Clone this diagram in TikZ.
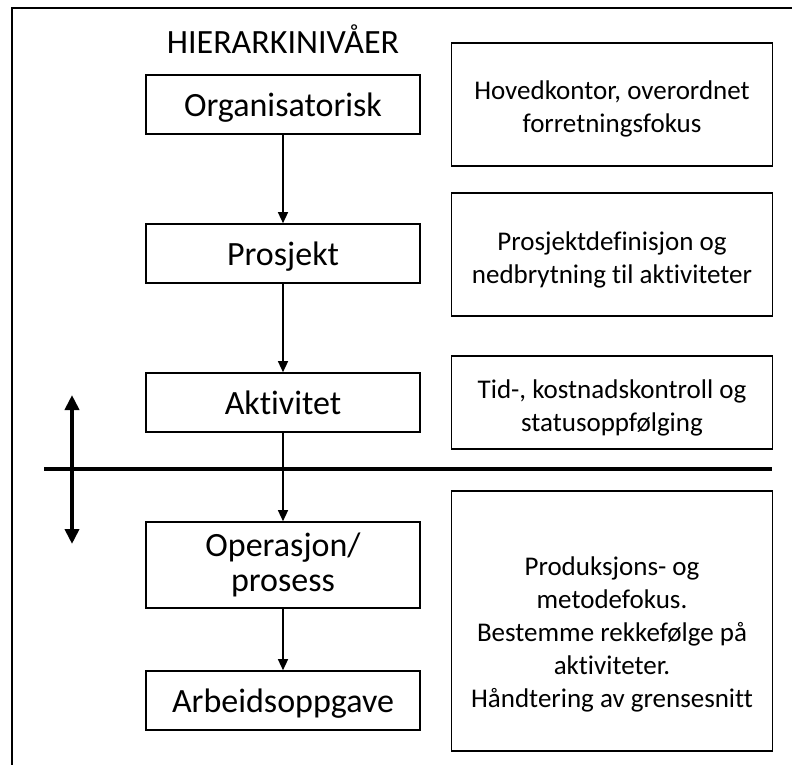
\documentclass[tikz,border=0pt]{standalone}
\usepackage{fontspec}
\setmainfont{Carlito}[Ligatures=NoCommon]
\usetikzlibrary{arrows.meta}
\begin{document}
\begin{tikzpicture}[x=1pt,y=-1pt,
  lvlbox/.style={draw=black, line width=1.6pt, minimum width=274pt, inner sep=0pt,
    align=center, text height=24pt, text depth=0pt, font=\fontsize{34}{35}\selectfont},
  notebox/.style={draw=black, line width=1.6pt, minimum width=321pt, inner sep=0pt},
  notetext/.style={align=center, inner sep=0pt, font=\fontsize{27}{33}\selectfont},
  flow/.style={line width=1.3pt, -{Triangle[length=11pt,width=10pt]}},
  bigarrow/.style={line width=4pt, {Triangle[length=15pt,width=14pt]}-{Triangle[length=15pt,width=14pt]}},
  divider/.style={line width=4pt}]
  \useasboundingbox (0,0) rectangle (792,765);

  % outer frame
  \draw[line width=1.5pt] (12,765) -- (12,8) -- (792,8);

  % heading
  \node[font=\fontsize{34}{35}\selectfont, inner sep=0pt, anchor=base] (title) at (283,54) {HIERARKINIVÅER};

  % hierarchy levels
  \node[lvlbox, minimum height=59pt] (org) at (283,104.5) {Organisatorisk};
  \node[lvlbox, minimum height=59pt] (prj) at (283,253.5) {Prosjekt};
  \node[lvlbox, minimum height=59pt] (akt) at (283,402.5) {Aktivitet};
  \node[lvlbox, minimum height=86pt, text height=, text depth=] (ops) at (283,565) {Operasjon/\\prosess};
  \node[lvlbox, minimum height=59pt] (arb) at (283,700.5) {Arbeidsoppgave};

  % descriptions
  \node[notebox, minimum height=123pt] (d1) at (612,104.5) {};
  \node[notetext] (d1t) at (612,109) {Hovedkontor, overordnet\\forretningsfokus};
  \node[notebox, minimum height=123pt] (d2) at (612,254.5) {};
  \node[notetext] (d2t) at (612,260) {Prosjektdefinisjon og\\nedbrytning til aktiviteter};
  \node[notebox, minimum height=93pt] (d3) at (612,402.5) {};
  \node[notetext] (d3t) at (612,408) {Tid-, kostnadskontroll og\\statusoppfølging};
  \node[notebox, minimum height=260pt] (d4) at (612,621) {};
  \node[notetext] (d4t) at (612,634) {Produksjons- og\\metodefokus.\\Bestemme rekkefølge på\\aktiviteter.\\Håndtering av grensesnitt};

  % divider and level switch
  \coordinate (hl) at (44,469);
  \coordinate (hr) at (772,469);
  \draw[divider] (hl) -- (hr);
  \coordinate (up) at (72,395);
  \coordinate (dn) at (72,544);
  \draw[bigarrow] (up) -- (dn);

  % level flow
  \draw[flow] (org) -- (prj);
  \draw[flow] (prj) -- (akt);
  \draw[flow] (akt) -- (ops);
  \draw[flow] (ops) -- (arb);
\end{tikzpicture}
\end{document}
